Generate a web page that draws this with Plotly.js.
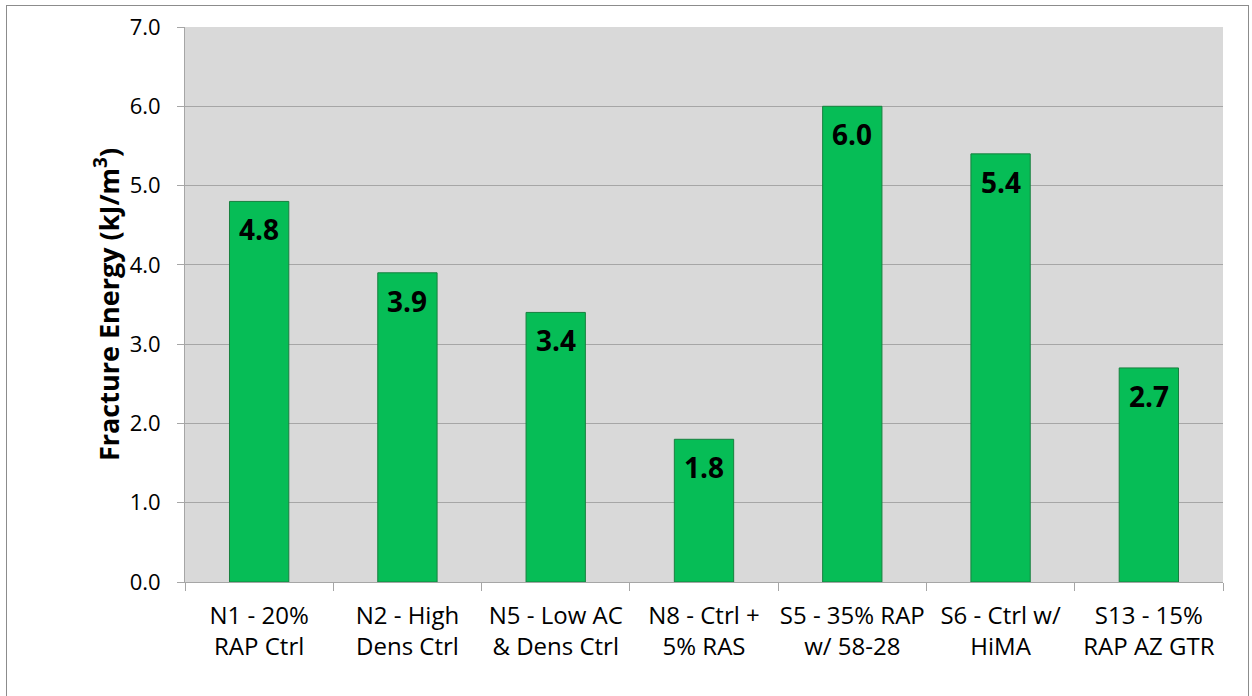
<!DOCTYPE html>
<html>
<head>
<meta charset="utf-8">
<script src="https://cdn.plot.ly/plotly-3.0.1.min.js"></script>
<style>
  html, body { margin: 0; padding: 0; background: #ffffff; }
  #wrap { position: relative; width: 1252px; height: 696px; }
  #chart { width: 1252px; height: 696px; }
  #frame {
    position: absolute; left: 6px; top: 5px; width: 1243px; height: 700px;
    border: 1px solid #8c8c8c; box-sizing: border-box; pointer-events: none;
  }
</style>
</head>
<body>
<div id="wrap">
  <div id="chart"></div>
  <div id="frame"></div>
</div>
<script>
// Mix designations (two-line category labels)
const categories = [
  "N1 - 20%<br>RAP Ctrl",
  "N2 - High<br>Dens Ctrl",
  "N5 - Low AC<br>& Dens Ctrl",
  "N8 - Ctrl +<br>5% RAS",
  "S5 - 35% RAP<br>w/ 58-28",
  "S6 - Ctrl w/<br>HiMA",
  "S13 - 15%<br>RAP AZ GTR"
];
// Fracture energy, kJ/m^3
const fractureEnergy = [4.8, 3.9, 3.4, 1.8, 6.0, 5.4, 2.7];
const yTicks = [0, 1, 2, 3, 4, 5, 6, 7];

const font = "'Open Sans', 'DejaVu Sans', sans-serif";
const gridGray = "#a6a6a6";

const trace = {
  type: "bar",
  x: categories,
  y: fractureEnergy,
  width: 0.4,
  marker: {
    color: "#06bd56",
    line: { color: "#17803f", width: 1 }
  },
  hoverinfo: "x+y"
};

// Value labels sit just inside the top of each bar
const valueLabels = categories.map((c, i) => ({
  x: c,
  y: fractureEnergy[i],
  xref: "x",
  yref: "y",
  yanchor: "top",
  yshift: -7,
  showarrow: false,
  text: fractureEnergy[i].toFixed(1),
  font: { family: font, size: 28, color: "#000000", weight: "bold" }
}));

const layout = {
  width: 1252,
  height: 696,
  margin: { l: 185, r: 29, t: 27, b: 114 },
  paper_bgcolor: "rgba(0,0,0,0)",
  plot_bgcolor: "#d9d9d9",
  showlegend: false,
  font: { family: font, color: "#000000" },
  xaxis: {
    type: "category",
    tickson: "boundaries",
    tickangle: 0,
    ticks: "outside",
    ticklen: 8,
    tickcolor: gridGray,
    showline: true,
    linecolor: gridGray,
    linewidth: 1,
    showgrid: false,
    ticklabelstandoff: 12,
    tickfont: { family: font, size: 24, color: "#000000" },
    automargin: false,
    fixedrange: true
  },
  yaxis: {
    range: [0, 7],
    tickvals: yTicks,
    ticktext: yTicks.map(v => v.toFixed(1)),
    ticks: "outside",
    ticklen: 7,
    tickcolor: gridGray,
    showline: true,
    linecolor: gridGray,
    linewidth: 1,
    showgrid: true,
    gridcolor: gridGray,
    gridwidth: 1,
    zeroline: false,
    ticklabelstandoff: 12,
    tickfont: { family: font, size: 22, color: "#000000" },
    title: {
      text: "Fracture Energy (kJ/m<sup>3</sup>)",
      font: { family: font, size: 27, color: "#000000", weight: "bold" },
      standoff: 2
    },
    automargin: false,
    fixedrange: true
  },
  annotations: valueLabels,
  bargap: 0.6
};

Plotly.newPlot("chart", [trace], layout, { displayModeBar: false, staticPlot: true });
</script>
</body>
</html>
